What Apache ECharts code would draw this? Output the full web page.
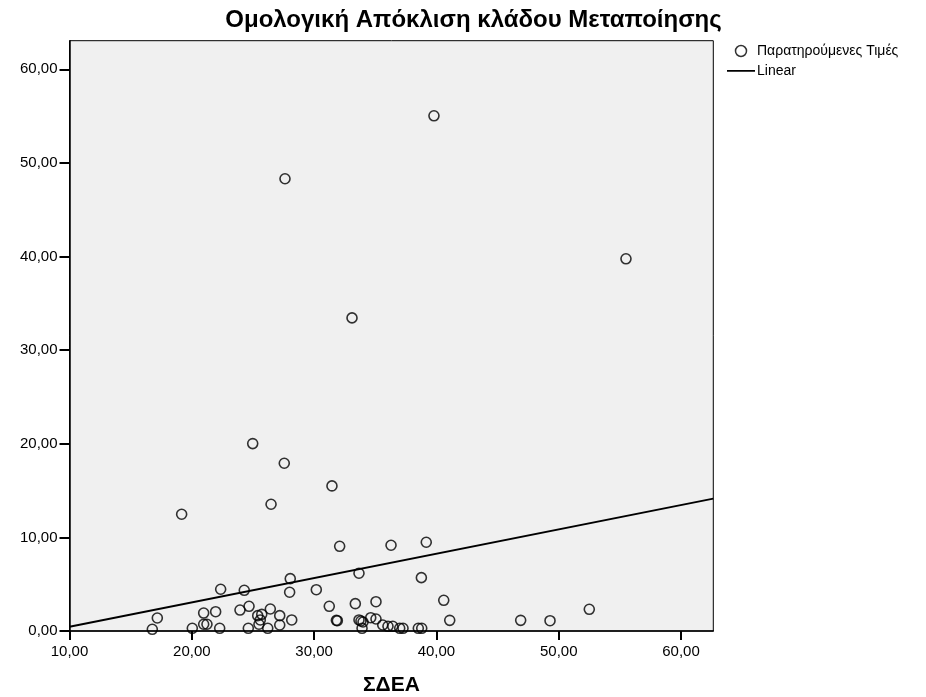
<!DOCTYPE html>
<html>
<head>
<meta charset="utf-8">
<script src="https://cdn.jsdelivr.net/npm/echarts@6/dist/echarts.min.js"></script>
<style>
html,body{margin:0;padding:0;background:#fff;}
#chart{width:926px;height:697px;}
</style>
</head>
<body>
<div id="chart"></div>
<script>
// Observed values (ΣΔΕΑ, Ομολογική Απόκλιση)
var sdeaX = [39.80, 27.62, 55.50, 33.10, 24.98, 27.56, 31.46, 26.48, 19.17, 32.09,
             36.29, 39.17, 33.67, 38.77, 28.05, 28.00, 22.36, 24.29, 30.18, 40.60,
             35.06, 33.37, 31.24, 24.68, 23.94, 21.95, 20.97, 17.18, 26.42, 25.39,
             25.72, 27.19, 25.49, 25.60, 27.19, 28.17, 20.97, 21.24, 20.04, 16.77,
             22.28, 24.62, 26.21, 31.82, 31.90, 33.83, 34.00, 33.67, 34.63, 35.06,
             33.92, 35.61, 36.04, 36.43, 37.00, 37.27, 38.52, 38.80, 41.09, 46.89,
             49.29, 52.50];
var deviationY = [55.04, 48.31, 39.76, 33.45, 20.02, 17.92, 15.50, 13.54, 12.47, 9.05,
                  9.16, 9.48, 6.17, 5.70, 5.59, 4.14, 4.46, 4.35, 4.41, 3.28,
                  3.13, 2.92, 2.64, 2.64, 2.24, 2.06, 1.92, 1.39, 2.35, 1.64,
                  1.78, 1.64, 0.72, 1.18, 0.64, 1.18, 0.72, 0.72, 0.29, 0.18,
                  0.29, 0.29, 0.29, 1.14, 1.10, 1.07, 0.96, 1.18, 1.42, 1.28,
                  0.29, 0.64, 0.50, 0.50, 0.29, 0.29, 0.29, 0.29, 1.14, 1.14,
                  1.10, 2.32];
// Linear fit line endpoints
var fitX = [10, 62.64];
var fitY = [0.46, 14.14];
var xTickLabels = ['10,00', '20,00', '30,00', '40,00', '50,00', '60,00'];
var yTickLabels = ['0,00', '10,00', '20,00', '30,00', '40,00', '50,00', '60,00'];

var titleText = 'Ομολογική Απόκλιση κλάδου Μεταποίησης';
var xName = 'ΣΔΕΑ';
var seriesNames = ['Παρατηρούμενες Τιμές', 'Linear'];

function fmt(v) { return v.toFixed(2).replace('.', ','); }

var scatterData = sdeaX.map(function (x, i) { return [x, deviationY[i]]; });
var lineData = fitX.map(function (x, i) { return [x, fitY[i]]; });

var FONT = 'Liberation Sans, Arial, sans-serif';
var chart = echarts.init(document.getElementById('chart'), null, {renderer: 'canvas'});
chart.setOption({
  animation: false,
  backgroundColor: '#ffffff',
  textStyle: {fontFamily: FONT},
  title: {
    text: titleText,
    left: 468.5, top: 3, textAlign: 'center',
    textStyle: {fontSize: 24, fontWeight: 'bold', color: '#000', fontFamily: FONT}
  },
  legend: {
    orient: 'vertical',
    left: 727, top: 44, padding: 0,
    itemWidth: 28, itemHeight: 11, itemGap: 6,
    textStyle: {fontSize: 14, color: '#000', padding: [0, 0, 0, -3], fontFamily: FONT},
    data: [
      {name: seriesNames[0], icon: 'circle', itemStyle: {color: 'transparent', borderColor: '#000', borderWidth: 1.5}},
      {name: seriesNames[1], icon: 'path://M0,0 L0.01,0 M0,4.6 L28,4.6 L28,6.2 L0,6.2 Z M0,11 L0.01,11', itemStyle: {color: '#000', borderWidth: 0}}
    ]
  },
  grid: {
    left: 69.5, right: 212.7, top: 40.7, bottom: 66,
    outerBoundsMode: 'none', containLabel: false,
    show: true, backgroundColor: '#f0f0f0', borderColor: '#000', borderWidth: 1
  },
  xAxis: {
    type: 'value', min: 10, max: 62.64, interval: 10,
    name: xName, nameLocation: 'middle', nameGap: 44,
    nameTextStyle: {fontSize: 21, fontWeight: 'bold', color: '#000', fontFamily: FONT},
    axisLine: {show: true, onZero: false, lineStyle: {color: '#000', width: 1.5}},
    axisTick: {show: true, length: 9, lineStyle: {color: '#000', width: 2}},
    axisLabel: {fontSize: 15, color: '#000', margin: 13, showMaxLabel: false,
      formatter: function (v) { var i = Math.round((v - 10) / 10); return xTickLabels[i] !== undefined ? xTickLabels[i] : fmt(v); }},
    splitLine: {show: false}
  },
  yAxis: {
    type: 'value', min: 0, max: 63.06, interval: 10,
    axisLine: {show: true, lineStyle: {color: '#000', width: 1.5}},
    axisTick: {show: true, length: 10, lineStyle: {color: '#000', width: 2}},
    axisLabel: {fontSize: 15, color: '#000', margin: 12, showMaxLabel: false,
      formatter: function (v) { var i = Math.round(v / 10); return yTickLabels[i] !== undefined ? yTickLabels[i] : fmt(v); }},
    splitLine: {show: false}
  },
  series: [
    {
      name: seriesNames[0], type: 'scatter', data: scatterData,
      symbol: 'circle', symbolSize: 10,
      itemStyle: {color: 'transparent', borderColor: '#000', borderWidth: 1.6},
      clip: false, z: 3
    },
    {
      name: seriesNames[1], type: 'line', data: lineData,
      symbol: 'none', showSymbol: false,
      lineStyle: {color: '#000', width: 2},
      itemStyle: {color: '#000'},
      z: 4
    }
  ]
});
</script>
</body>
</html>
